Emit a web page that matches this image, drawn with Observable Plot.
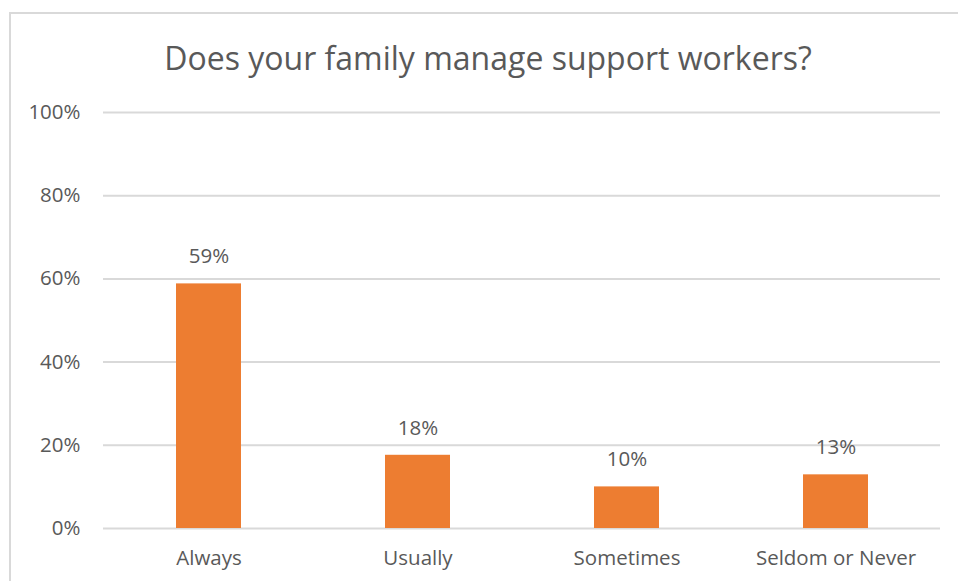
<!DOCTYPE html>
<html><head><meta charset="utf-8">
<script src="https://cdn.jsdelivr.net/npm/d3@7"></script>
<script src="https://cdn.jsdelivr.net/npm/@observablehq/plot@0.6"></script>
<style>
body{margin:0;background:#fff;font-family:"Open Sans",Lato,sans-serif;}
#wrap{position:relative;width:958px;height:581px;overflow:hidden;}
#frame{position:absolute;left:9px;top:12px;right:-10px;bottom:-10px;border-left:2px solid #d9d9d9;border-top:2px solid #d9d9d9;}
#title{position:absolute;left:0;width:976px;top:36px;text-align:center;font-size:32px;color:#595959;white-space:nowrap;}
#chart{position:absolute;left:0;top:0;}
</style></head>
<body><div id="wrap"><div id="frame"></div><div id="title">Does your family manage support workers?</div><div id="chart"></div></div>
<script>
const categories = ["Always", "Usually", "Sometimes", "Seldom or Never"];
const values = [0.588, 0.176, 0.100, 0.129];
const yTicks = [0, 0.2, 0.4, 0.6, 0.8, 1.0];

const data = categories.map((c, i) => ({category: c, value: values[i]}));
const fmt = d3.format(".0%");

const chart = Plot.plot({
  width: 958,
  height: 581,
  marginLeft: 103,
  marginRight: 18,
  marginTop: 112,
  marginBottom: 53,
  style: {fontFamily: "'Open Sans', Lato, sans-serif", fontSize: "20.5px", color: "#595959", background: "transparent"},
  x: {domain: categories, paddingInner: 0.69, paddingOuter: 0.345, label: null, tickSize: 0, tickPadding: 22},
  y: {domain: [0, 1], ticks: yTicks, tickFormat: fmt, label: null, tickSize: 0, tickPadding: 23},
  marks: [
    Plot.ruleY(yTicks, {stroke: "#d9d9d9", strokeWidth: 2}),
    Plot.barY(data, {x: "category", y: "value", fill: "#ED7D31"}),
    Plot.text(data, {x: "category", y: "value", text: d => fmt(d.value), dy: -27, fill: "#595959", fontSize: 20.5})
  ]
});
document.getElementById("chart").appendChild(chart);
</script></body></html>
